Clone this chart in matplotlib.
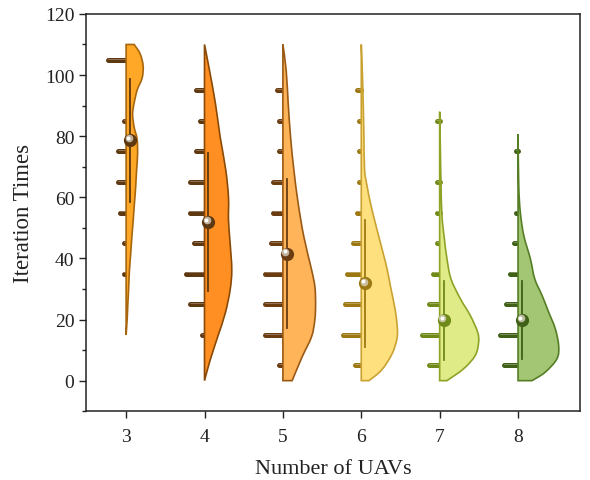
import matplotlib
matplotlib.use("Agg")
import matplotlib.pyplot as plt
import matplotlib.transforms as mtransforms
import numpy as np
from matplotlib.patches import PathPatch
from matplotlib.path import Path

plt.rcParams["font.family"] = ["Liberation Serif", "DejaVu Serif"]

uav_counts = [3, 4, 5, 6, 7, 8]
bin_centers = [5, 15, 25, 35, 45, 55, 65, 75, 85, 95, 105]

# histogram counts per bin (bins of width 10)
hist_3 = [0, 0, 0, 2, 2, 4, 5, 5, 2, 0, 10]
hist_4 = [0, 2, 8, 10, 6, 8, 8, 5, 3, 5, 0]
hist_5 = [3, 10, 10, 10, 7, 6, 6, 3, 3, 4, 0]
hist_6 = [4, 10, 9, 8, 5, 3, 2, 2, 2, 3, 0]
hist_7 = [6, 10, 6, 4, 2, 2, 2, 0, 2, 0, 0]
hist_8 = [8, 10, 7, 5, 3, 2, 0, 2, 0, 0, 0]

# mean and standard deviation of iteration times
means = [78.7, 52.0, 41.6, 31.8, 19.8, 19.8]
stds = [20.1, 22.6, 24.3, 20.7, 12.9, 12.8]

# half-violin density outline: iteration value and half width
kde_y_3 = [15, 20, 25, 30, 36, 41, 47, 52, 58, 63, 69, 74, 79, 83, 87, 90, 95, 99, 103, 107, 110]
kde_w_3 = [0.0, 0.013, 0.022, 0.032, 0.042, 0.057, 0.073, 0.089, 0.106, 0.121, 0.134, 0.146,
           0.140, 0.102, 0.083, 0.096, 0.140, 0.204, 0.217, 0.178, 0.102]
kde_y_4 = [0, 6.8, 14.4, 22, 29.7, 36.3, 44.9, 52.6, 60, 69, 79.7, 90.6, 101.5, 110]
kde_w_4 = [0.0, 0.073, 0.169, 0.264, 0.327, 0.348, 0.327, 0.306, 0.306, 0.271, 0.200, 0.140, 0.064, 0.0]
kde_y_5 = [0, 7.8, 14.4, 20, 25.3, 30.8, 36.3, 47, 58, 69, 79.7, 90.6, 101.5, 110]
kde_w_5 = [0.118, 0.246, 0.366, 0.408, 0.417, 0.408, 0.366, 0.268, 0.195, 0.140, 0.098, 0.068, 0.042, 0.0]
kde_y_6 = [0, 3.5, 8.9, 14.4, 20, 25.3, 30.8, 36.3, 41.6, 47, 52.6, 58, 63.4, 69, 79.7, 90.6, 101.5, 110]
kde_w_6 = [0.098, 0.260, 0.395, 0.459, 0.450, 0.417, 0.373, 0.331, 0.280, 0.225, 0.169, 0.118,
           0.076, 0.042, 0.034, 0.025, 0.013, 0.0]
kde_y_7 = [0, 3.9, 8.3, 12.6, 15.9, 21.3, 26.8, 33.3, 39.9, 46.4, 54, 64.9, 75.8, 88]
kde_w_7 = [0.093, 0.306, 0.455, 0.497, 0.484, 0.391, 0.264, 0.144, 0.093, 0.060, 0.029, 0.017, 0.009, 0.0]
kde_y_8 = [0, 2.8, 7.2, 11.5, 17, 22.4, 27.9, 33.3, 39.9, 47.5, 55.1, 63.8, 80.7]
kde_w_8 = [0.178, 0.348, 0.497, 0.518, 0.475, 0.391, 0.306, 0.213, 0.157, 0.073, 0.029, 0.009, 0.0]

hists = [hist_3, hist_4, hist_5, hist_6, hist_7, hist_8]
kde_ys = [kde_y_3, kde_y_4, kde_y_5, kde_y_6, kde_y_7, kde_y_8]
kde_ws = [kde_w_3, kde_w_4, kde_w_5, kde_w_6, kde_w_7, kde_w_8]

fill_colors = ["#FFA726", "#FF8F22", "#FFB45A", "#FFE07E", "#DFEB86", "#A2C673"]
edge_colors = ["#A8660C", "#8A4A06", "#9A5A14", "#C9A232", "#8EA226", "#557E24"]
dark_colors = ["#5E3810", "#5E3810", "#6A3C10", "#9C7812", "#6F8A18", "#3F6016"]

BAR_MAX = 0.25      # x-extent of the tallest histogram bar
LINE_OFF = 0.05     # mean / sd line offset from the violin spine


def smooth_outline(xs, ys):
    """Catmull-Rom curve through the outline points, as Bezier path pieces."""
    pts = np.column_stack([xs, ys])
    n = len(pts)
    verts = [pts[0]]
    codes = [Path.LINETO]
    for i in range(n - 1):
        p0 = pts[max(i - 1, 0)]
        p1 = pts[i]
        p2 = pts[i + 1]
        p3 = pts[min(i + 2, n - 1)]
        c1 = p1 + (p2 - p0) / 6.0
        c2 = p2 - (p3 - p1) / 6.0
        verts += [c1, c2, p2]
        codes += [Path.CURVE4] * 3
    return verts, codes


fig = plt.figure(figsize=(5.9, 4.81), dpi=100)
ax = fig.add_axes([0.146, 0.143, 0.837, 0.826])

for i, n in enumerate(uav_counts):
    counts = np.array(hists[i], dtype=float)
    lengths = counts / counts.max() * BAR_MAX

    # histogram bars pointing left
    for yc, ln in zip(bin_centers, lengths):
        if ln <= 0:
            continue
        ax.plot([n - ln + 0.02, n], [yc, yc], color=dark_colors[i], lw=3.6,
                solid_capstyle="round", zorder=2)
        ax.plot([n - ln + 0.02, n], [yc + 0.4, yc + 0.4], color="white", lw=0.6,
                alpha=0.35, solid_capstyle="round", zorder=2.1)

    # half violin on the right
    ky = np.array(kde_ys[i], dtype=float)
    kw = np.array(kde_ws[i], dtype=float)
    verts, codes = smooth_outline(n + kw, ky)
    verts = [(n, ky[0])] + verts + [(n, ky[-1]), (n, ky[0])]
    codes = [Path.MOVETO] + codes + [Path.LINETO, Path.CLOSEPOLY]
    patch = PathPatch(Path(verts, codes), facecolor=fill_colors[i],
                      edgecolor=edge_colors[i], lw=1.2, zorder=3)
    ax.add_patch(patch)

    # mean +/- sd line and mean marker
    xm = n + LINE_OFF
    ax.plot([xm, xm], [means[i] - stds[i], means[i] + stds[i]],
            color=dark_colors[i], lw=1.3, zorder=4)
    ax.plot(xm, means[i], "o", ms=9.5, color=dark_colors[i], mec="none", zorder=5)
    hl = mtransforms.offset_copy(ax.transData, fig=fig, x=-1.0, y=1.2, units="points")
    ax.plot(xm, means[i], "o", ms=5.5, color="#D8D0C0", mec="none", alpha=0.8,
            transform=hl, zorder=6)
    hl2 = mtransforms.offset_copy(ax.transData, fig=fig, x=-1.4, y=1.6, units="points")
    ax.plot(xm, means[i], "o", ms=2.8, color="white", mec="none", transform=hl2, zorder=7)

ax.set_xlim(2.49, 8.79)
ax.set_ylim(-10, 120)
ax.set_xticks(uav_counts)
ax.set_yticks(np.arange(0, 121, 20))
ax.set_yticks(np.arange(-10, 121, 10), minor=True)
ax.tick_params(axis="both", which="major", direction="out", length=5, width=1.0,
               labelsize=14, colors="#222222")
ax.tick_params(axis="x", which="major", pad=7)
ax.tick_params(axis="y", which="minor", direction="out", length=3, width=1.0, colors="#222222")
ax.tick_params(axis="x", which="minor", bottom=False)
for side in ax.spines.values():
    side.set_linewidth(1.1)
    side.set_color("#222222")

ax.set_xlabel("Number of UAVs", fontsize=16, labelpad=10, color="#222222")
ax.set_ylabel("Iteration Times", fontsize=16.5, labelpad=8, color="#222222")

fig.savefig("out.png", dpi=100)
